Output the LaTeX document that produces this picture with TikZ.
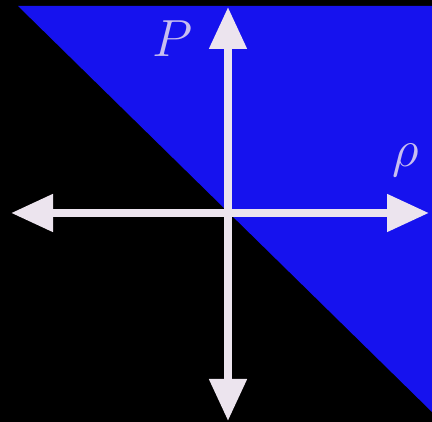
\documentclass[tikz,border=0pt]{standalone}
\usetikzlibrary{arrows.meta}
\definecolor{bgblue}{RGB}{22,18,238}
\definecolor{axiscol}{RGB}{236,228,238}
\definecolor{labcol}{RGB}{200,190,240}
\tikzset{
  axis/.style={draw=axiscol, line width=8pt, -{Triangle[length=42pt,width=36pt]}},
  lab/.style={text=labcol, font=\Huge, scale=2.1, inner sep=0pt}
}
\begin{document}
\begin{tikzpicture}[x=1pt,y=1pt]
\fill[black] (0,0) rectangle (432,422);
\useasboundingbox (0,0) rectangle (432,422);
\fill[bgblue] (18,416) -- (432,416) -- (432,10) -- cycle;
\coordinate (O) at (228,209);
\coordinate (L) at (11,209);
\coordinate (R) at (429,209);
\coordinate (U) at (228,415);
\coordinate (D) at (228,1);
\draw[axis] (O) -- (L);
\draw[axis] (O) -- (R);
\draw[axis] (O) -- (U);
\draw[axis] (O) -- (D);
\node[lab] (p) at (173,383) {$P$};
\node[lab] (rho) at (406,262) {$\rho$};
\end{tikzpicture}
\end{document}
